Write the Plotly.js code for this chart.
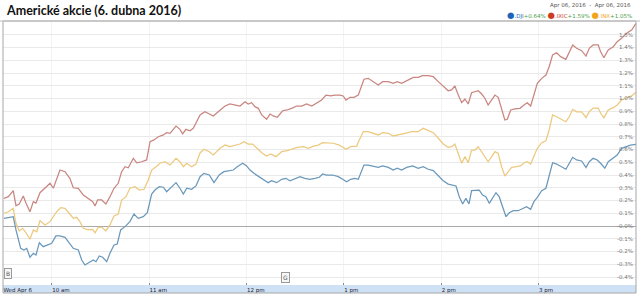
<!DOCTYPE html>
<html>
<head>
<meta charset="utf-8">
<script src="https://cdn.plot.ly/plotly-3.0.1.min.js"></script>
<style>html,body{margin:0;padding:0;background:#fff;}#chart{width:640px;height:296px;}</style>
</head>
<body>
<div id="chart"></div>
<script>
// minutes after 09:30 and % change, per series
const djiPoints = [[0.6,0.060],[3.3,0.068],[6.3,0.073],[8.0,-0.031],[9.4,-0.110],[10.9,-0.175],[12.9,-0.188],[14.6,-0.175],[16.6,-0.245],[18.7,-0.214],[20.3,-0.227],[22.4,-0.131],[24.8,-0.162],[27.3,-0.149],[30.0,-0.136],[32.6,-0.078],[35.1,-0.078],[38.2,-0.089],[41.2,-0.136],[43.3,-0.175],[46.4,-0.188],[48.5,-0.267],[50.5,-0.306],[53.2,-0.288],[55.6,-0.267],[57.3,-0.280],[59.3,-0.235],[61.4,-0.245],[63.9,-0.280],[65.9,-0.214],[68.4,-0.149],[70.4,-0.141],[72.5,-0.031],[75.2,-0.005],[78.2,0.034],[80.7,0.094],[83.3,0.060],[86.4,0.073],[88.9,0.104],[91.6,0.251],[93.6,0.282],[96.3,0.308],[98.8,0.304],[100.8,0.269],[102.9,0.296],[106.6,0.340],[109.0,0.296],[111.1,0.251],[113.2,0.296],[116.2,0.288],[118.9,0.314],[121.4,0.387],[123.8,0.413],[127.1,0.400],[130.0,0.340],[133.2,0.400],[136.1,0.426],[139.4,0.434],[141.9,0.439],[144.3,0.465],[147.7,0.492],[150.1,0.471],[152.2,0.439],[154.6,0.413],[157.9,0.387],[160.8,0.361],[163.4,0.340],[165.5,0.355],[168.6,0.340],[171.7,0.366],[174.3,0.374],[176.8,0.355],[179.9,0.374],[183.0,0.387],[186.0,0.374],[189.1,0.366],[192.2,0.374],[194.9,0.382],[196.9,0.408],[199.4,0.400],[203.1,0.400],[206.6,0.387],[209.3,0.366],[211.7,0.347],[214.2,0.366],[216.8,0.374],[218.9,0.366],[220.4,0.413],[222.4,0.478],[225.0,0.478],[228.1,0.471],[231.2,0.460],[233.9,0.471],[237.4,0.460],[240.4,0.439],[242.9,0.453],[245.6,0.439],[248.7,0.460],[252.4,0.471],[255.8,0.453],[258.9,0.465],[262.0,0.445],[265.1,0.434],[268.2,0.392],[271.2,0.355],[274.3,0.329],[277.0,0.319],[279.1,0.314],[281.1,0.230],[283.2,0.173],[285.2,0.217],[287.1,0.173],[288.7,0.277],[291.4,0.277],[293.4,0.282],[295.5,0.243],[297.5,0.230],[299.6,0.178],[301.7,0.225],[303.7,0.261],[305.7,0.230],[307.8,0.151],[309.9,0.073],[311.9,0.104],[314.4,0.120],[317.4,0.120],[320.2,0.139],[322.6,0.151],[325.1,0.131],[327.1,0.191],[329.2,0.225],[331.9,0.277],[334.5,0.296],[336.5,0.387],[338.6,0.496],[341.1,0.486],[343.6,0.465],[346.8,0.445],[348.9,0.492],[351.0,0.539],[353.4,0.518],[356.5,0.510],[359.2,0.459],[361.2,0.504],[363.6,0.531],[366.1,0.518],[368.2,0.492],[370.8,0.453],[372.9,0.504],[376.0,0.531],[378.4,0.557],[381.1,0.609],[384.2,0.622],[386.6,0.635],[390,0.640]];

const ixicPoints = [[0.6,0.217],[3.3,0.230],[6.3,0.277],[8.0,0.159],[10.0,0.173],[12.5,0.235],[14.2,0.178],[16.6,0.112],[18.7,0.191],[20.3,0.180],[22.8,0.261],[25.9,0.296],[29.0,0.335],[31.0,0.296],[33.1,0.366],[35.1,0.439],[38.2,0.426],[41.2,0.374],[43.3,0.300],[46.4,0.296],[49.5,0.243],[52.5,0.217],[55.3,0.191],[56.7,0.157],[58.3,0.204],[60.8,0.204],[63.4,0.173],[65.9,0.230],[68.4,0.296],[71.0,0.335],[73.1,0.426],[75.2,0.465],[77.2,0.457],[80.3,0.531],[82.4,0.496],[85.4,0.504],[88.5,0.518],[90.6,0.661],[93.0,0.675],[95.7,0.700],[98.8,0.714],[100.8,0.732],[102.9,0.727],[106.6,0.784],[109.0,0.758],[110.7,0.722],[112.7,0.758],[115.2,0.747],[117.2,0.766],[119.3,0.818],[121.4,0.871],[124.4,0.896],[127.1,0.878],[129.6,0.863],[132.6,0.896],[136.8,0.941],[139.8,0.957],[142.9,0.949],[146.0,0.941],[149.1,0.975],[151.1,0.957],[153.2,0.967],[155.2,0.936],[157.3,0.923],[159.4,0.871],[162.4,0.837],[164.5,0.878],[166.5,0.863],[169.0,0.853],[172.3,0.904],[175.1,0.910],[177.8,0.923],[180.9,0.941],[184.0,0.941],[187.1,0.957],[190.2,0.941],[193.3,0.967],[196.3,0.988],[199.0,1.027],[201.9,1.020],[204.5,1.027],[207.6,1.027],[209.6,1.020],[211.3,0.988],[213.8,1.009],[216.2,1.009],[218.9,1.027],[220.4,1.080],[222.4,1.151],[225.0,1.158],[228.1,1.132],[231.2,1.106],[233.9,1.132],[237.4,1.132],[240.4,1.119],[242.9,1.132],[245.6,1.119],[248.7,1.140],[252.8,1.166],[255.8,1.166],[258.5,1.179],[262.0,1.179],[265.1,1.171],[268.2,1.132],[271.2,1.093],[274.3,1.061],[276.4,1.067],[278.4,1.098],[280.5,1.027],[282.6,0.967],[284.6,0.996],[286.6,0.957],[288.7,1.045],[290.8,1.053],[292.8,1.061],[294.9,1.035],[296.9,1.002],[298.9,0.949],[301.1,0.988],[303.1,1.027],[305.1,1.009],[307.2,0.910],[309.2,0.831],[310.7,0.837],[312.8,0.910],[315.4,0.918],[318.5,0.923],[321.0,0.949],[323.0,0.967],[325.1,0.941],[327.1,1.027],[329.2,1.119],[331.9,1.158],[334.5,1.184],[336.5,1.249],[338.6,1.341],[341.1,1.359],[343.6,1.328],[346.8,1.307],[348.9,1.367],[351.0,1.420],[353.4,1.394],[356.5,1.375],[359.2,1.333],[361.2,1.394],[363.6,1.420],[366.7,1.420],[368.2,1.367],[370.2,1.320],[372.9,1.380],[376.0,1.406],[378.4,1.446],[381.1,1.472],[384.2,1.511],[387.3,1.537],[390,1.590]];

const inxPoints = [[0.6,0.100],[3.3,0.112],[6.3,0.139],[8.0,0.021],[10.0,-0.039],[12.1,-0.018],[14.2,-0.053],[16.6,-0.104],[18.7,-0.031],[20.8,-0.045],[22.8,0.042],[25.9,0.008],[29.0,0.034],[31.0,0.073],[33.1,0.112],[35.5,0.144],[38.2,0.139],[41.2,0.094],[43.3,0.060],[45.4,0.068],[47.4,0.034],[49.5,-0.018],[52.5,-0.031],[55.3,-0.026],[56.7,-0.053],[58.7,-0.010],[60.8,-0.010],[63.4,-0.037],[65.9,0.008],[68.4,0.078],[71.0,0.094],[73.1,0.204],[75.8,0.230],[78.2,0.296],[81.3,0.308],[84.0,0.282],[86.9,0.288],[89.5,0.361],[91.6,0.439],[94.3,0.465],[96.7,0.492],[99.8,0.504],[102.9,0.478],[106.6,0.531],[109.0,0.504],[111.1,0.465],[113.2,0.492],[116.2,0.465],[118.9,0.486],[121.4,0.573],[123.8,0.602],[127.1,0.583],[129.6,0.557],[133.7,0.609],[136.8,0.635],[139.8,0.622],[142.9,0.635],[146.0,0.643],[148.5,0.661],[151.1,0.643],[153.8,0.643],[156.3,0.609],[159.4,0.575],[162.4,0.549],[164.9,0.565],[168.2,0.544],[171.7,0.583],[175.1,0.591],[177.8,0.602],[181.3,0.617],[185.0,0.622],[188.1,0.609],[191.2,0.627],[194.2,0.635],[196.9,0.653],[200.4,0.649],[203.5,0.649],[207.2,0.635],[211.3,0.602],[214.2,0.622],[217.9,0.627],[219.5,0.675],[222.0,0.740],[225.0,0.740],[228.1,0.727],[231.2,0.714],[233.9,0.732],[237.4,0.727],[240.4,0.706],[244.1,0.714],[247.6,0.727],[251.8,0.740],[255.8,0.740],[258.9,0.766],[262.0,0.747],[265.1,0.732],[268.2,0.688],[271.2,0.643],[274.3,0.617],[276.4,0.622],[278.4,0.643],[280.5,0.570],[282.6,0.492],[284.6,0.544],[286.6,0.496],[288.7,0.596],[290.8,0.596],[292.8,0.622],[294.9,0.583],[296.9,0.549],[298.9,0.504],[301.1,0.544],[303.1,0.583],[305.1,0.570],[307.2,0.465],[309.2,0.392],[311.3,0.426],[313.4,0.460],[316.5,0.465],[318.9,0.471],[321.0,0.496],[323.0,0.504],[325.1,0.486],[327.1,0.544],[329.2,0.609],[331.9,0.653],[334.5,0.669],[336.5,0.753],[338.6,0.871],[341.1,0.857],[343.6,0.837],[346.8,0.818],[348.9,0.857],[351.0,0.915],[353.4,0.896],[356.5,0.896],[359.2,0.851],[361.2,0.896],[363.6,0.925],[366.7,0.925],[368.2,0.884],[370.2,0.849],[372.9,0.910],[376.0,0.928],[378.4,0.949],[381.1,0.988],[384.2,1.006],[387.3,1.020],[390,1.050]];

const seriesNames = ['.DJI', '.IXIC', '.INX'];
const seriesChange = ['+0.64%', '+1.59%', '+1.05%'];
const xTickTimes = ['09:30', '10:00', '11:00', '12:00', '13:00', '14:00', '15:00'];
const xTickLabels = ['Wed Apr 6', '10 am', '11 am', '12 pm', '1 pm', '2 pm', '3 pm'];
const yTickVals = [-0.4, -0.3, -0.2, -0.1, 0, 0.1, 0.2, 0.3, 0.4, 0.5, 0.6, 0.7, 0.8, 0.9, 1.0, 1.1, 1.2, 1.3, 1.4, 1.5, 1.6];
const yTickLabels = ['-0.4%', '-0.3%', '-0.2%', '-0.1%', '-0.0%', '0.1%', '0.2%', '0.3%', '0.4%', '0.5%', '0.6%', '0.7%', '0.8%', '0.9%', '1.0%', '1.1%', '1.2%', '1.3%', '1.4%', '1.5%', '1.6%'];
const chartTitle = 'Americké akcie (6. dubna 2016)';
const dateRangeText = 'Apr 06, 2016  -  Apr 06, 2016';

const DAY = '2016-04-06';
function toTime(m) {
  const total = Math.round((9 * 60 + 30 + m) * 60);
  const h = Math.floor(total / 3600), mi = Math.floor((total % 3600) / 60), s = total % 60;
  const p = n => String(n).padStart(2, '0');
  return DAY + ' ' + p(h) + ':' + p(mi) + ':' + p(s);
}
function mk(points, color, name) {
  return {
    type: 'scatter', mode: 'lines', name: name,
    x: points.map(p => toTime(p[0])), y: points.map(p => p[1]),
    line: {color: color, width: 1.25}, hoverinfo: 'skip'
  };
}
const lineColors = ['#6a98bb', '#c98680', '#ecc97e'];
const data = [
  mk(inxPoints, lineColors[2], seriesNames[2]),
  mk(djiPoints, lineColors[0], seriesNames[0]),
  mk(ixicPoints, lineColors[1], seriesNames[1])
];

const plotH = 296 - 21 - 11;
const legendColors = ['#1e63b8', '#cc3b22', '#f0a419'];
const green = '#4aa04a';
let leg = '';
for (let i = 0; i < 3; i++) {
  leg += '<span style="color:' + legendColors[i] + ';font-size:8.5px">\u25CF</span>' +
         '<span style="color:' + legendColors[i] + '">' + seriesNames[i] + '</span>' +
         '<span style="color:' + green + '">' + seriesChange[i] + '</span>' + (i < 2 ? ' ' : '');
}

const layout = {
  width: 640, height: 296,
  margin: {l: 3, r: 4, t: 21, b: 11},
  paper_bgcolor: '#ffffff', plot_bgcolor: '#ffffff',
  showlegend: false,
  font: {family: 'DejaVu Sans, sans-serif', size: 6, color: '#555'},
  xaxis: {
    type: 'date',
    range: [DAY + ' 09:30:00', DAY + ' 16:00:00'],
    tickmode: 'array',
    tickvals: xTickTimes.map(t => DAY + ' ' + t + ':00'),
    ticktext: xTickLabels,
    ticklabelposition: 'outside right',
    ticks: 'inside', ticklen: 2, tickcolor: '#888',
    tickfont: {family: 'DejaVu Sans, sans-serif', size: 5.5, color: '#223'},
    showgrid: true, gridcolor: '#f3f3f3', gridwidth: 1,
    showline: false, zeroline: false, fixedrange: true
  },
  yaxis: {
    range: [-59 / 127.5, 205 / 127.5],
    side: 'right',
    tickmode: 'array', tickvals: yTickVals, ticktext: yTickLabels,
    ticklabelposition: 'inside',
    ticks: '',
    tickfont: {family: 'DejaVu Sans, sans-serif', size: 5.5, color: '#777'},
    showgrid: true, gridcolor: '#e9e9e9', gridwidth: 1,
    zeroline: true, zerolinecolor: '#a9a9a9', zerolinewidth: 1,
    showline: false, fixedrange: true
  },
  shapes: [
    {type: 'rect', xref: 'paper', yref: 'paper', x0: 0, x1: 1, y0: -8 / plotH, y1: 0,
     fillcolor: '#cfe1f4', line: {width: 0}, layer: 'below'},
    {type: 'rect', xref: 'paper', yref: 'paper', x0: 0, x1: 1, y0: -8 / plotH, y1: 1,
     fillcolor: 'rgba(0,0,0,0)', line: {color: '#a6a6a6', width: 1}, layer: 'above'},
    {type: 'line', xref: 'paper', yref: 'paper', x0: -3 / 633, x1: 1 + 4 / 633, y0: 1, y1: 1,
     line: {color: '#bdbdbd', width: 1}}
  ],
  annotations: [
    {text: '<b>' + chartTitle + '</b>', xref: 'paper', yref: 'paper', x: 0, y: 1 + 10.5 / plotH,
     xanchor: 'left', yanchor: 'middle', xshift: 1, showarrow: false,
     font: {family: 'Lato, sans-serif', size: 12.5, color: '#111'}},
    {text: dateRangeText, xref: 'paper', yref: 'paper', x: 1, y: 1 + 15 / plotH,
     xanchor: 'right', yanchor: 'middle', xshift: -3, showarrow: false,
     font: {family: 'DejaVu Sans, sans-serif', size: 5.5, color: '#555'}},
    {text: leg, xref: 'paper', yref: 'paper', x: 1, y: 1 + 6 / plotH,
     xanchor: 'right', yanchor: 'middle', xshift: -2, showarrow: false,
     font: {family: 'DejaVu Sans, sans-serif', size: 5.5, color: '#555'}},
    {text: 'B', xref: 'x', yref: 'y', x: DAY + ' 09:33:00', y: -0.37, showarrow: false,
     bordercolor: '#9a9a9a', borderwidth: 1, borderpad: 1, bgcolor: '#f7f7f7',
     font: {family: 'DejaVu Sans, sans-serif', size: 6, color: '#555'}},
    {text: 'G', xref: 'x', yref: 'y', x: DAY + ' 12:24:00', y: -0.40, showarrow: false,
     bordercolor: '#9a9a9a', borderwidth: 1, borderpad: 1, bgcolor: '#f7f7f7',
     font: {family: 'DejaVu Sans, sans-serif', size: 6, color: '#555'}}
  ]
};

Plotly.newPlot('chart', data, layout, {displayModeBar: false, staticPlot: true});
</script>
</body>
</html>
